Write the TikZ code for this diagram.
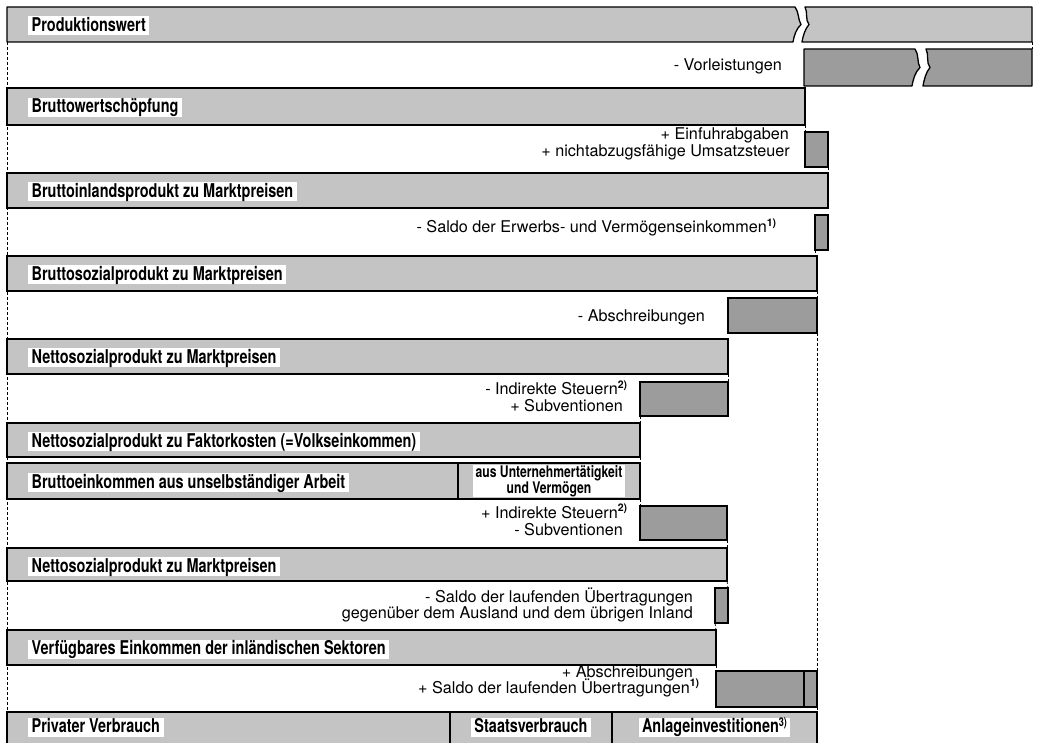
\documentclass[tikz,border=0pt]{standalone}
\usepackage{fontspec}
\setmainfont{TeX Gyre Heros}
\newfontfamily\labfamily{TeX Gyre Heros}[FakeStretch=0.76]
\usetikzlibrary{calc}
\definecolor{lightbar}{RGB}{196,196,196}
\definecolor{darkbar}{RGB}{156,156,156}
\newcommand\supmark[1]{\rlap{\raisebox{6.5pt}{\fontsize{10.5}{10.5}\selectfont\bfseries #1)}}}
\tikzset{
  bar/.style={draw=black, line width=1.3pt, fill=lightbar, inner sep=0pt, outer sep=0pt, anchor=north west, minimum height=35pt},
  dbar/.style={bar, fill=darkbar},
  barpath/.style={draw=black, line width=1.3pt, line join=round},
  lab/.style={fill=white, font={\labfamily\bfseries\fontsize{19}{21}\selectfont}, inner xsep=3.5pt, inner ysep=1pt, text height=14pt, text depth=3pt, anchor=base west},
  slab/.style={fill=white, font={\labfamily\bfseries\fontsize{16}{13}\selectfont}, inner xsep=3pt, inner ysep=0.5pt, align=center},
  txt/.style={font={\fontsize{16.2}{17}\selectfont}, inner sep=0pt, anchor=base east},
  conn/.style={draw=black, line width=0.7pt, dash pattern=on 3pt off 2pt}
}
\begin{document}
\begin{tikzpicture}[x=1pt,y=-1pt]
\useasboundingbox (0,0) rectangle (1037,743);
\fill[white] (0,0) rectangle (1037,743);

% named corner points of the broken bars
\coordinate (b1sw) at (7,42);
\coordinate (b1se) at (1032,42);
\coordinate (b2ne) at (1032,49);

% bars
\node[bar, minimum width=798pt, minimum height=37pt] (b3) at (7,88) {};
\node[dbar, minimum width=23pt] (b4) at (805,132) {};
\node[bar, minimum width=821pt] (b5) at (7,173) {};
\node[dbar, minimum width=13pt] (b6) at (815,215) {};
\node[bar, minimum width=810pt] (b7) at (7,256) {};
\node[dbar, minimum width=89pt] (b8) at (728,298) {};
\node[bar, minimum width=721pt] (b9) at (7,339) {};
\node[dbar, minimum width=88pt, minimum height=34pt] (b10) at (640,382) {};
\node[bar, minimum width=633pt, minimum height=34pt] (b11) at (7,423) {};
\node[bar, minimum width=451pt, minimum height=36pt] (b12a) at (7,463) {};
\node[bar, minimum width=182pt, minimum height=36pt] (b12b) at (458,463) {};
\node[dbar, minimum width=87pt, minimum height=34pt] (b13) at (640,506) {};
\node[bar, minimum width=720pt, minimum height=33pt] (b14) at (7,548) {};
\node[dbar, minimum width=13pt] (b15) at (715,588) {};
\node[bar, minimum width=709pt] (b16) at (7,630) {};
\node[dbar, minimum width=88pt, minimum height=36pt] (b17a) at (716,671) {};
\node[dbar, minimum width=13pt, minimum height=36pt] (b17b) at (804,671) {};
\node[bar, minimum width=443pt, minimum height=38pt] (b18a) at (7,712) {};
\node[bar, minimum width=162pt, minimum height=38pt] (b18b) at (450,712) {};
\node[bar, minimum width=205pt, minimum height=38pt] (b18c) at (612,712) {};

% dashed guide lines
\path[conn] (b1sw) -- (b18a.north west);
\path[conn] (b1se) -- (b2ne);
\path[conn] (b3.south east) -- (b4.north west);
\path[conn] (b4.south east) -- (b5.north east);
\path[conn] (b6.south west) -- (b6.south west |- b7.north);
\path[conn] (b7.south east) -- (b8.north east);
\path[conn] (b8.south east) -- (b17b.north east);
\path[conn] (b9.south east) -- (b10.north east);
\path[conn] (b10.south west) -- (b11.north east);
\path[conn] (b11.south east) -- (b12b.north east);
\path[conn] (b12b.south east) -- (b13.north west);
\path[conn] (b13.south east) -- (b14.north east);
\path[conn] (b14.south east) -- (b15.north east);
\path[conn] (b15.south west) -- (b16.north east);
\path[conn] (b16.south east) -- (b17a.north west);
\path[conn] (b17b.south east) -- (b18c.north east);

% broken bars (row 1 and row 2)
\path[barpath, fill=lightbar] (7,7) -- (795,7) .. controls (799,12) and (798,20) .. (801,24.5) .. controls (796,29) and (794,36) .. (793,42) -- (b1sw) -- cycle;
\path[barpath, fill=lightbar] (805,7) -- (1032,7) -- (b1se) -- (802,42) .. controls (803,36) and (805,29) .. (809,24.5) .. controls (805,20) and (808,12) .. (805,7) -- cycle;
\path[barpath, fill=darkbar] (804,49) -- (915,49) .. controls (919,54) and (917,63) .. (920,67.5) .. controls (915,72) and (913,80) .. (912,86) -- (804,86) -- cycle;
\path[barpath, fill=darkbar] (926,49) -- (b2ne) -- (1032,86) -- (923,86) .. controls (924,80) and (926,72) .. (930,67.5) .. controls (926,63) and (929,54) .. (926,49) -- cycle;

% bar labels
\node[lab] (l1) at (28,31.5) {Produktionswert};
\node[lab] (l3) at ($(b3.north west)+(21,25)$) {Bruttowertschöpfung};
\node[lab] (l5) at ($(b5.north west)+(21,24.5)$) {Bruttoinlandsprodukt zu Marktpreisen};
\node[lab] (l7) at ($(b7.north west)+(21,24.5)$) {Bruttosozialprodukt zu Marktpreisen};
\node[lab] (l9) at ($(b9.north west)+(21,24.5)$) {Nettosozialprodukt zu Marktpreisen};
\node[lab] (l11) at ($(b11.north west)+(21,24)$) {Nettosozialprodukt zu Faktorkosten (=Volkseinkommen)};
\node[lab] (l12) at ($(b12a.north west)+(21,25)$) {Bruttoeinkommen aus unselbständiger Arbeit};
\node[slab] (l12b) at (b12b.center) {aus Unternehmertätigkeit\\und Vermögen};
\node[lab] (l14) at ($(b14.north west)+(21,24)$) {Nettosozialprodukt zu Marktpreisen};
\node[lab] (l16) at ($(b16.north west)+(21,24.5)$) {Verfügbares Einkommen der inländischen Sektoren};
\node[lab] (l18a) at ($(b18a.north west)+(21,20.5)$) {Privater Verbrauch};
\node[lab, anchor=base] (l18b) at ($(b18b.north)+(0,20.5)$) {Staatsverbrauch};
\node[lab, anchor=base] (l18c) at ($(b18c.north)+(0,20.5)$) {Anlageinvestitionen\raisebox{6pt}{\fontsize{12}{12}\selectfont 3)}};

% change texts
\node[txt] (t2) at (782,71) {- Vorleistungen};
\node[txt] (t4a) at (789,140) {+ Einfuhrabgaben};
\node[txt] (t4b) at (790,157) {+ nichtabzugsfähige Umsatzsteuer};
\node[txt] (t6) at (767,233) {- Saldo der Erwerbs- und Vermögenseinkommen\supmark{1}};
\node[txt] (t8) at (705,322) {- Abschreibungen};
\node[txt] (t10a) at (618,395) {- Indirekte Steuern\supmark{2}};
\node[txt] (t10b) at (623,412) {+ Subventionen};
\node[txt] (t13a) at (618,518) {+ Indirekte Steuern\supmark{2}};
\node[txt] (t13b) at (623,535) {- Subventionen};
\node[txt] (t15a) at (693,602) {- Saldo der laufenden Übertragungen};
\node[txt] (t15b) at (693,618) {gegenüber dem Ausland und dem übrigen Inland};
\node[txt] (t17a) at (693,677) {+ Abschreibungen};
\node[txt] (t17b) at (690,693) {+ Saldo der laufenden Übertragungen\supmark{1}};
\end{tikzpicture}
\end{document}
